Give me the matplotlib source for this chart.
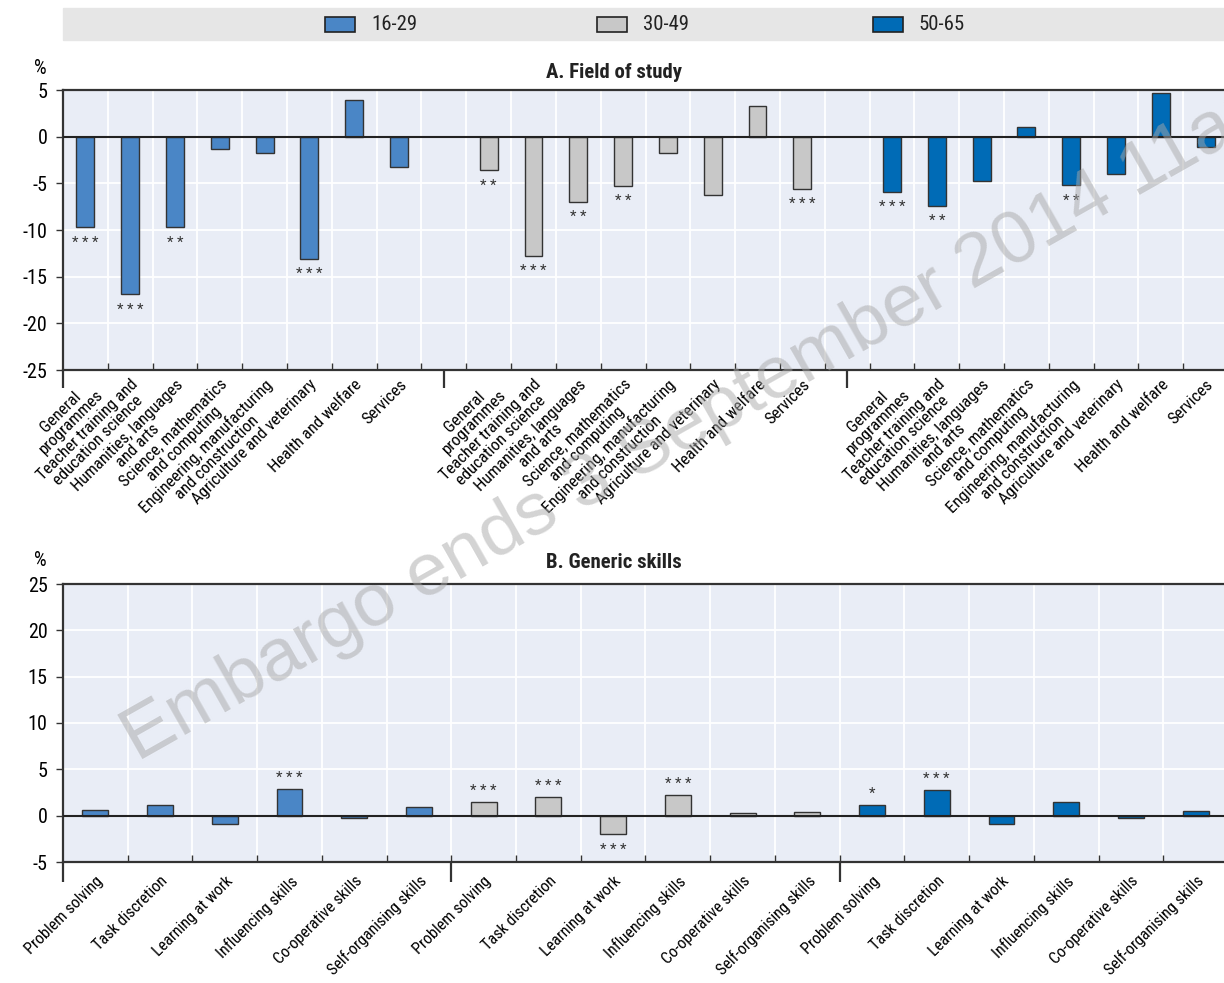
import matplotlib
matplotlib.use("Agg")
import matplotlib.pyplot as plt
import matplotlib.transforms as mtransforms
from matplotlib import font_manager
from matplotlib.patches import Rectangle


def pick_narrow_family():
    """Prefer a condensed sans face; fall back to Liberation Sans."""
    entries = font_manager.fontManager.ttflist
    names = {f.name for f in entries}
    for n in ["Roboto Condensed", "Liberation Sans Narrow", "Arial Narrow",
              "Open Sans Condensed", "Noto Sans Condensed"]:
        if n in names:
            return n, "normal", True
    for n in ["Roboto", "Noto Sans", "Open Sans"]:
        for f in entries:
            if f.name == n and "condensed" in str(f.stretch) \
                    and "extra" not in str(f.stretch) \
                    and "ultra" not in str(f.stretch):
                return n, "condensed", True
    return "Liberation Sans", "normal", False


FAMILY, STRETCH, NARROW = pick_narrow_family()
plt.rcParams["font.family"] = [FAMILY, "DejaVu Sans"]
plt.rcParams["font.stretch"] = STRETCH
S = 1.15 if NARROW else 1.0

# ---- data -------------------------------------------------------------
age_groups = ["16-29", "30-49", "50-65"]
group_colors = ["#4A86C6", "#C8C8C8", "#006BB6"]

fields = [
    "General\nprogrammes",
    "Teacher training and\neducation science",
    "Humanities, languages\nand arts",
    "Science, mathematics\nand computing",
    "Engineering, manufacturing\nand construction",
    "Agriculture and veterinary",
    "Health and welfare",
    "Services",
]
field_16_29 = [-9.7, -16.9, -9.7, -1.3, -1.8, -13.1, 3.9, -3.3]
field_30_49 = [-3.6, -12.8, -7.0, -5.3, -1.8, -6.2, 3.3, -5.6]
field_50_65 = [-5.9, -7.4, -4.7, 1.0, -5.2, -4.0, 4.7, -1.1]
field_sig_16_29 = ["***", "***", "**", "", "", "***", "", ""]
field_sig_30_49 = ["**", "***", "**", "**", "", "", "", "***"]
field_sig_50_65 = ["***", "**", "", "", "**", "", "", ""]

skills = [
    "Problem solving",
    "Task discretion",
    "Learning at work",
    "Influencing skills",
    "Co-operative skills",
    "Self-organising skills",
]
skill_16_29 = [0.6, 1.2, -0.9, 2.9, -0.2, 0.9]
skill_30_49 = [1.5, 2.0, -2.0, 2.2, 0.3, 0.4]
skill_50_65 = [1.2, 2.8, -0.9, 1.5, -0.3, 0.5]
skill_sig_16_29 = ["", "", "", "***", "", ""]
skill_sig_30_49 = ["***", "***", "***", "***", "", ""]
skill_sig_50_65 = ["*", "***", "", "", "", ""]

# ---- layout helpers ---------------------------------------------------
W, H = 1224, 983
fig = plt.figure(figsize=(W / 100, H / 100), dpi=100)


def fx(px):
    return px / W


def fy(py):
    return 1 - py / H


BG = "#E9EDF6"
DARK = "#333333"


def draw_panel(ax, cats, series, sigs, gap, ylim, yticks, label_size,
               label_pad, sep_len):
    n = len(cats)
    step = n + gap
    n_groups = len(series)
    total = step * n_groups - gap
    ax.set_facecolor(BG)
    ax.set_xlim(0, total)
    ax.set_ylim(*ylim)

    centers, labels = [], []
    for g, (vals, sig, col) in enumerate(zip(series, sigs, group_colors)):
        xs = [g * step + i + 0.5 for i in range(n)]
        ax.bar(xs, vals, width=0.4, color=col, edgecolor=DARK,
               linewidth=1.0, zorder=3)
        for x, v, s in zip(xs, vals, sig):
            if s:
                ax.annotate(" ".join(s), (x, v),
                            xytext=(0, -6 if v < 0 else 3),
                            textcoords="offset points", ha="center",
                            va="top" if v < 0 else "bottom",
                            fontsize=9.5 * S, color=DARK, zorder=5)
        centers += xs
        labels += cats

    ax.axhline(0, color="#222222", lw=1.5, zorder=4)

    # category labels
    ax.set_xticks(centers)
    ax.set_xticklabels(labels)
    ax.tick_params(axis="x", which="major", length=0, pad=label_pad)
    for t in ax.get_xticklabels():
        t.set_rotation(45)
        t.set_rotation_mode("anchor")
        t.set_ha("right")
        t.set_va("top")
        t.set_multialignment("center")
        t.set_fontsize(label_size)
        t.set_linespacing(0.95)

    # slot boundaries: inward ticks and white grid
    ax.set_xticks(range(1, total), minor=True)
    ax.tick_params(axis="x", which="minor", direction="in", length=5,
                   width=1, color=DARK)
    ax.grid(which="minor", axis="x", color="white", lw=1.3, zorder=0)

    ax.set_yticks(yticks)
    ax.set_yticklabels([str(v) for v in yticks])
    ax.tick_params(axis="y", direction="out", length=5, width=1,
                   color=DARK, labelsize=12.5 * S, pad=6)
    ax.grid(which="major", axis="y", color="white", lw=1.3, zorder=0)
    ax.set_axisbelow(True)

    for side in ["top", "left", "bottom"]:
        ax.spines[side].set_color(DARK)
        ax.spines[side].set_linewidth(1.6)
    ax.spines["right"].set_visible(False)

    # group separators below the axis
    trans = mtransforms.blended_transform_factory(ax.transData, ax.transAxes)
    seps = [0] + [g * step - gap / 2 for g in range(1, n_groups)]
    ax.vlines(seps, 0, -sep_len, transform=trans, color=DARK, lw=1.6,
              clip_on=False, zorder=5)


axA = fig.add_axes([fx(63), fy(370), 1165 / W, 280 / H])
axB = fig.add_axes([fx(63), fy(862), 1165 / W, 278 / H])

draw_panel(axA, fields, [field_16_29, field_30_49, field_50_65],
           [field_sig_16_29, field_sig_30_49, field_sig_50_65],
           gap=1, ylim=(-25, 5), yticks=[5, 0, -5, -10, -15, -20, -25],
           label_size=10.5 * S, label_pad=5, sep_len=18 / 280)
draw_panel(axB, skills, [skill_16_29, skill_30_49, skill_50_65],
           [skill_sig_16_29, skill_sig_30_49, skill_sig_50_65],
           gap=0, ylim=(-5, 25), yticks=[25, 20, 15, 10, 5, 0, -5],
           label_size=10.2 * S, label_pad=8, sep_len=20 / 278)

# panel titles and unit markers
fig.text(fx(614), fy(72), "A. Field of study", ha="center", va="center",
         fontsize=13 * S, fontweight="bold", color="#222222")
fig.text(fx(614), fy(563), "B. Generic skills", ha="center", va="center",
         fontsize=13 * S, fontweight="bold", color="#222222")
fig.text(fx(34), fy(68), "%", ha="left", va="center", fontsize=12.5 * S)
fig.text(fx(34), fy(560), "%", ha="left", va="center", fontsize=12.5 * S)

# legend band
fig.patches.append(Rectangle((fx(63), fy(40)), (W - 63) / W, 32 / H,
                             transform=fig.transFigure, color="#E6E6E6",
                             zorder=0))
legend_x = [325, 597, 873]
for lx, name, col in zip(legend_x, age_groups, group_colors):
    fig.patches.append(Rectangle((fx(lx), fy(32)), 30 / W, 15 / H,
                                 transform=fig.transFigure, facecolor=col,
                                 edgecolor="#222222", lw=1.2, zorder=1))
    fig.text(fx(lx + 46), fy(24), name, ha="left", va="center",
             fontsize=13 * S, color="#222222")

# embargo stamp across the page
fig.text(fx(138), fy(762), "Embargo ends 3 September 2014 11am",
         rotation=29.5, rotation_mode="anchor", ha="left", va="baseline",
         fontsize=54, family=["Liberation Sans", "DejaVu Sans"],
         stretch="normal", color="#A8A8A8", alpha=0.5, zorder=10)

fig.savefig("out.png", dpi=100)
